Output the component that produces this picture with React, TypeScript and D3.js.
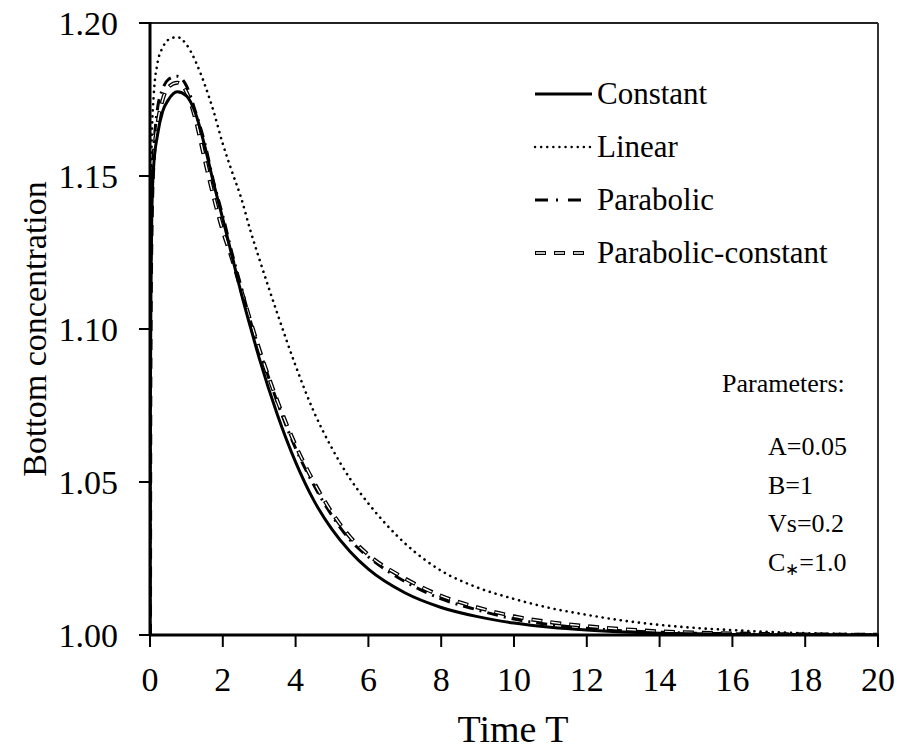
import React from "react";
import * as d3 from "d3";

const timeT = [0, 0.01, 0.03, 0.05, 0.1, 0.2, 0.35, 0.5, 0.75, 1.0, 1.25, 1.5, 1.75, 2.0, 2.25, 2.5, 2.75, 3.0, 3.5, 4, 4.5, 5, 5.5, 6, 7, 8, 9, 10, 11, 12, 13, 14, 15, 16, 17, 18, 19, 20];

const constantC = [1.0, 1.075, 1.118, 1.138, 1.153, 1.163, 1.1712, 1.1748, 1.1775, 1.1762, 1.1705, 1.16, 1.1475, 1.136, 1.124, 1.112, 1.101, 1.0905, 1.072, 1.0565, 1.044, 1.0345, 1.0272, 1.0215, 1.0138, 1.009, 1.006, 1.0039, 1.0025, 1.0016, 1.001, 1.0006, 1.0004, 1.0002, 1.0001, 1.0001, 1.0, 1.0];

const linearC = [1.0, 1.11, 1.145, 1.163, 1.176, 1.1865, 1.192, 1.1945, 1.1954, 1.193, 1.1875, 1.18, 1.171, 1.1605, 1.1515, 1.143, 1.1325, 1.123, 1.105, 1.088, 1.073, 1.061, 1.051, 1.043, 1.03, 1.021, 1.0155, 1.0118, 1.0088, 1.0066, 1.0047, 1.0033, 1.0023, 1.0016, 1.001, 1.0006, 1.0004, 1.0002];

const parabolicC = [1.0, 1.095, 1.13, 1.145, 1.158, 1.1715, 1.1785, 1.1815, 1.1826, 1.1795, 1.171, 1.161, 1.148, 1.137, 1.125, 1.114, 1.103, 1.0935, 1.076, 1.061, 1.049, 1.039, 1.031, 1.0255, 1.0175, 1.0118, 1.0082, 1.0052, 1.0034, 1.0022, 1.0014, 1.0009, 1.0006, 1.0004, 1.0002, 1.0001, 1.0001, 1.0];

const parabolicConstantC = [1.0, 1.085, 1.122, 1.138, 1.155, 1.1665, 1.175, 1.179, 1.1805, 1.1775, 1.1685, 1.1555, 1.143, 1.132, 1.123, 1.113, 1.103, 1.0935, 1.0765, 1.062, 1.05, 1.04, 1.032, 1.0262, 1.0185, 1.0128, 1.009, 1.0061, 1.0042, 1.0029, 1.0019, 1.0012, 1.0008, 1.0005, 1.0003, 1.0002, 1.0001, 1.0001];

const xTicks = [0, 2, 4, 6, 8, 10, 12, 14, 16, 18, 20];
const yTicks = [1.0, 1.05, 1.1, 1.15, 1.2];

const legendLabels = ["Constant", "Linear", "Parabolic", "Parabolic-constant"];
const paramTitle = "Parameters:";
const paramLines = ["A=0.05", "B=1", "Vs=0.2"];

const W = 899;
const H = 750;
const left = 150;
const right = 878;
const top = 23;
const bottom = 635;
const FONT = "'Liberation Serif', 'Times New Roman', serif";

export default function App() {
  const x = d3.scaleLinear().domain([0, 20]).range([left, right]);
  const y = d3.scaleLinear().domain([1.0, 1.2]).range([bottom, top]);

  const line = d3
    .line<number>()
    .x((_, i) => x(timeT[i]))
    .y((v) => y(v))
    .curve(d3.curveMonotoneX);

  const pConst = line(constantC) || "";
  const pLin = line(linearC) || "";
  const pPar = line(parabolicC) || "";
  const pParC = line(parabolicConstantC) || "";

  const legX0 = 535;
  const legX1 = 592;
  const legTextX = 597;
  const legBase = [104, 157, 210, 263];

  return (
    <svg
      width={W}
      height={H}
      style={{ position: "absolute", left: 0, top: 0, background: "#fff", fontFamily: FONT }}
    >
      <defs>
        <clipPath id="plotclip">
          <rect x={left} y={top - 2} width={right - left} height={bottom - top + 2} />
        </clipPath>
      </defs>
      <rect x={0} y={0} width={W} height={H} fill="#fff" />

      {/* curves */}
      <g clipPath="url(#plotclip)" fill="none">
        <path d={pLin} stroke="#000" strokeWidth={2.6} strokeDasharray="0.1 6" strokeLinecap="round" />
        <path d={pPar} stroke="#000" strokeWidth={3} strokeDasharray="11 6 2 6" />
        <path d={pParC} stroke="#000" strokeWidth={4} strokeDasharray="11 8" />
        <path d={pParC} stroke="#fff" strokeWidth={1.4} strokeDasharray="9 10" strokeDashoffset={-1} />
        <path d={pConst} stroke="#000" strokeWidth={3} />
      </g>

      {/* frame */}
      <line x1={left} x2={right} y1={top} y2={top} stroke="#222" strokeWidth={2} />
      <line x1={right} x2={right} y1={top} y2={bottom} stroke="#333" strokeWidth={2} />
      <line x1={left} x2={left} y1={top - 1} y2={bottom + 1} stroke="#000" strokeWidth={3} />
      <line x1={left - 1} x2={right + 1} y1={bottom} y2={bottom} stroke="#000" strokeWidth={3} />

      {/* y ticks */}
      {yTicks.map((t) => (
        <g key={"y" + t}>
          <line x1={left - 11} x2={left} y1={y(t)} y2={y(t)} stroke="#000" strokeWidth={2} />
          <text x={118} y={y(t)} dy="0.35em" textAnchor="end" fontSize={34} fill="#000" fontFamily={FONT}>
            {d3.format(".2f")(t)}
          </text>
        </g>
      ))}

      {/* x ticks */}
      {xTicks.map((t) => (
        <g key={"x" + t}>
          <line x1={x(t)} x2={x(t)} y1={bottom} y2={bottom + 12} stroke="#000" strokeWidth={2} />
          <text x={x(t)} y={691} textAnchor="middle" fontSize={34} fill="#000" fontFamily={FONT}>
            {t}
          </text>
        </g>
      ))}

      {/* axis titles */}
      <text x={(left + right) / 2 - 1} y={742} textAnchor="middle" fontSize={38} fill="#000" fontFamily={FONT}>
        Time T
      </text>
      <text
        transform={`translate(46, ${(top + bottom) / 2}) rotate(-90)`}
        textAnchor="middle"
        fontSize={34}
        fill="#000"
        fontFamily={FONT}
      >
        Bottom concentration
      </text>

      {/* legend */}
      <g fill="none">
        <line x1={legX0} x2={legX1} y1={legBase[0] - 10} y2={legBase[0] - 10} stroke="#000" strokeWidth={3} />
        <line x1={legX0} x2={legX1} y1={legBase[1] - 10} y2={legBase[1] - 10} stroke="#000" strokeWidth={2.4} strokeDasharray="0.1 6" strokeLinecap="round" />
        <line x1={legX0} x2={legX1 - 9} y1={legBase[2] - 10} y2={legBase[2] - 10} stroke="#000" strokeWidth={3} strokeDasharray="13 8 2 10" />
        <line x1={legX0} x2={legX1} y1={legBase[3] - 10} y2={legBase[3] - 10} stroke="#000" strokeWidth={4} strokeDasharray="11 8" />
        <line x1={legX0} x2={legX1} y1={legBase[3] - 10} y2={legBase[3] - 10} stroke="#fff" strokeWidth={1.4} strokeDasharray="9 10" strokeDashoffset={-1} />
      </g>
      {legendLabels.map((l, i) => (
        <text key={l} x={legTextX} y={legBase[i]} fontSize={31} fill="#000" fontFamily={FONT}>
          {l}
        </text>
      ))}

      {/* parameters */}
      <text x={722} y={392} fontSize={26} fill="#000" fontFamily={FONT}>
        {paramTitle}
      </text>
      {paramLines.map((p, i) => (
        <text key={p} x={768} y={455 + i * 38.5} fontSize={26} fill="#000" fontFamily={FONT}>
          {p}
        </text>
      ))}
      <text x={768} y={455 + 3 * 38.5} fontSize={26} fill="#000" fontFamily={FONT}>
        C<tspan fontSize={17} dy={4}>∗</tspan>
        <tspan dy={-4}>=1.0</tspan>
      </text>
    </svg>
  );
}
